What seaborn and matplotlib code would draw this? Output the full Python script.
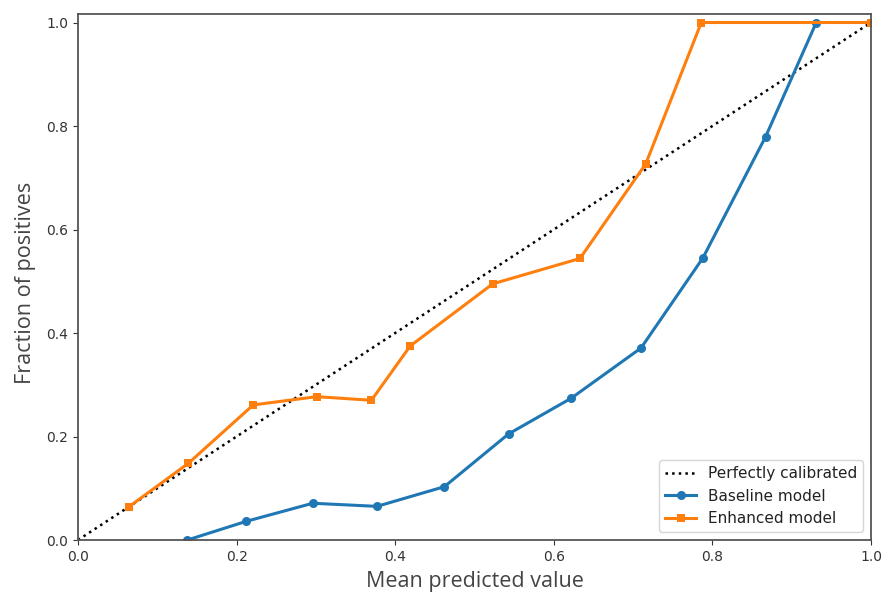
import matplotlib
matplotlib.use("Agg")
import matplotlib.pyplot as plt
import seaborn as sns
import pandas as pd

ref_x = [0.0, 1.0]
ref_y = [0.0, 1.0]

baseline_x = [0.138, 0.212, 0.296, 0.377, 0.462, 0.543, 0.622, 0.710, 0.788, 0.867, 0.931]
baseline_y = [0.0, 0.036, 0.071, 0.065, 0.103, 0.205, 0.274, 0.371, 0.545, 0.779, 1.0]

enhanced_x = [0.064, 0.139, 0.221, 0.301, 0.370, 0.419, 0.523, 0.633, 0.716, 0.786, 1.0]
enhanced_y = [0.064, 0.148, 0.261, 0.277, 0.270, 0.375, 0.495, 0.544, 0.727, 1.0, 1.0]

xticks = [0.0, 0.2, 0.4, 0.6, 0.8, 1.0]
yticks = [0.0, 0.2, 0.4, 0.6, 0.8, 1.0]

fig = plt.figure(figsize=(8.85, 5.93), dpi=100)
ax = fig.add_axes([78/885, 1-540/593, (871-78)/885, (540-13.5)/593])

df_ref = pd.DataFrame({"x": ref_x, "y": ref_y})
df_b = pd.DataFrame({"x": baseline_x, "y": baseline_y})
df_e = pd.DataFrame({"x": enhanced_x, "y": enhanced_y})

sns.lineplot(data=df_ref, x="x", y="y", ax=ax, color="k", linestyle=":",
             linewidth=1.8, label="Perfectly calibrated", sort=False)
sns.lineplot(data=df_b, x="x", y="y", ax=ax, color="#1f77b4", marker="o",
             markersize=6.5, markeredgewidth=0, linewidth=2.2, label="Baseline model", sort=False)
sns.lineplot(data=df_e, x="x", y="y", ax=ax, color="#ff7f0e", marker="s",
             markersize=6, markeredgewidth=0, linewidth=2.2, label="Enhanced model", sort=False)

ax.set_xlim(0, 1)
ax.set_ylim(0, 1.0174)
ax.set_xticks(xticks)
ax.set_yticks(yticks)
ax.set_xticklabels([f"{t:.1f}" for t in xticks])
ax.set_yticklabels([f"{t:.1f}" for t in yticks])
ax.tick_params(labelsize=10, colors="#333333", labelcolor="#333333")
for s in ax.spines.values():
    s.set_color("#555555")
    s.set_linewidth(1.3)

ax.set_xlabel("Mean predicted value", fontsize=15.5, family="Open Sans", color="#444444", labelpad=5)
ax.set_ylabel("Fraction of positives", fontsize=15.6, family="Open Sans", color="#444444")
ax.yaxis.set_label_coords(-0.053, 0.489)

leg = ax.legend(loc="lower right", fontsize=11, frameon=True)
for t in leg.get_texts():
    t.set_color("#222222")

fig.savefig("out.png", dpi=100)
